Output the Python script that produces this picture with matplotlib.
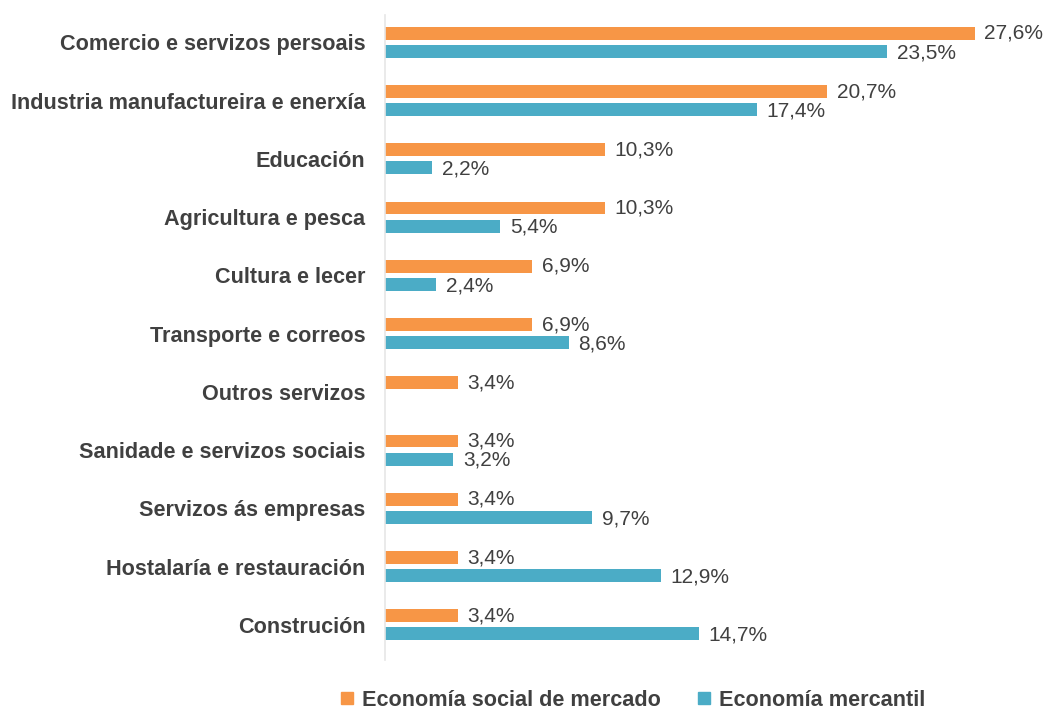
import numpy as np
import matplotlib.pyplot as plt
from matplotlib.lines import Line2D

plt.rcParams['font.family'] = ['Liberation Sans', 'DejaVu Sans']

# Data
categories = [
    "Comercio e servizos persoais",
    "Industria manufactureira e enerxía",
    "Educación",
    "Agricultura e pesca",
    "Cultura e lecer",
    "Transporte e correos",
    "Outros servizos",
    "Sanidade e servizos sociais",
    "Servizos ás empresas",
    "Hostalaría e restauración",
    "Construción",
]
social = [27.6, 20.7, 10.3, 10.3, 6.9, 6.9, 3.4, 3.4, 3.4, 3.4, 3.4]
mercantil = [23.5, 17.4, 2.2, 5.4, 2.4, 8.6, None, 3.2, 9.7, 12.9, 14.7]
series_names = ["Economía social de mercado", "Economía mercantil"]

ORANGE = "#F79646"
BLUE = "#4BACC6"
TXT = "#404040"

fig = plt.figure(figsize=(10.46, 7.11), dpi=100)
ax = fig.add_axes([0.368, 0.072, 0.613, 0.907])

y = np.arange(len(categories))
h = 0.22
off = 0.155

def fmt(v):
    return f"{v:.1f}".replace(".", ",") + "%"

for i, v in enumerate(social):
    ax.barh(y[i] - off, v, height=h, color=ORANGE)
    ax.text(v + 0.45, y[i] - off, fmt(v), va="center", ha="left",
            fontsize=15, color=TXT)
for i, v in enumerate(mercantil):
    if v is None:
        continue
    ax.barh(y[i] + off, v, height=h, color=BLUE)
    ax.text(v + 0.45, y[i] + off + 0.02, fmt(v), va="center", ha="left",
            fontsize=15, color=TXT)

ax.set_xlim(0, 30)
ax.set_ylim(10.6, -0.47)
ax.set_yticks(y)
ax.set_yticklabels(categories, fontsize=15.6, fontweight="bold", color=TXT)
ax.tick_params(axis="y", length=0, pad=14)
ax.set_xticks([])
for s in ["top", "right", "bottom"]:
    ax.spines[s].set_visible(False)
ax.spines["left"].set_color("#E6E6E6")
ax.spines["left"].set_linewidth(1.2)

handles = [
    Line2D([], [], marker="s", linestyle="none", markersize=8,
           markerfacecolor=ORANGE, markeredgecolor=ORANGE),
    Line2D([], [], marker="s", linestyle="none", markersize=8,
           markerfacecolor=BLUE, markeredgecolor=BLUE),
]
leg = fig.legend(handles, series_names, loc="center", bbox_to_anchor=(0.604, 0.015),
                 ncol=2, frameon=False, handlelength=0.8, handletextpad=0.3,
                 columnspacing=1.6, prop={"size": 15.6, "weight": "bold"})
for t in leg.get_texts():
    t.set_color(TXT)

fig.savefig("out.png", dpi=100)
